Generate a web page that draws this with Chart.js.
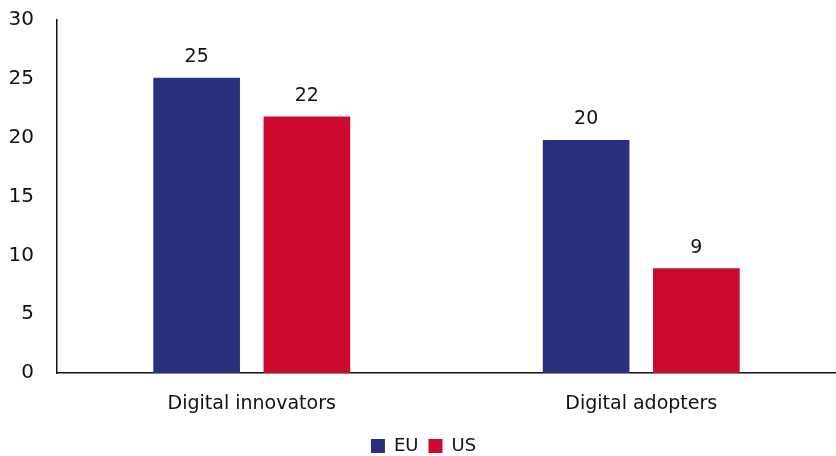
<!DOCTYPE html>
<html>
<head>
<meta charset="utf-8">
<script src="https://cdn.jsdelivr.net/npm/chart.js@4/dist/chart.umd.min.js"></script>
<style>
  html, body { margin: 0; padding: 0; background: #fff; }
  #wrap { width: 836px; height: 456px; }
</style>
</head>
<body>
<div id="wrap"><canvas id="chart"></canvas></div>
<script>
const categories = ['Digital innovators', 'Digital adopters'];
const EU = [25.1, 19.8];
const US = [21.8, 8.9];
const yTicks = [0, 5, 10, 15, 20, 25, 30];

const FONT = '"DejaVu Sans", sans-serif';

// draws the rounded value above each bar
const valueLabels = {
  id: 'valueLabels',
  afterDatasetsDraw(chart) {
    const ctx = chart.ctx;
    ctx.save();
    ctx.font = '19px ' + FONT;
    ctx.fillStyle = '#111';
    ctx.textAlign = 'center';
    ctx.textBaseline = 'bottom';
    chart.data.datasets.forEach((ds, i) => {
      chart.getDatasetMeta(i).data.forEach((bar, j) => {
        ctx.fillText(Math.round(ds.data[j]), bar.x, bar.y - 11);
      });
    });
    ctx.restore();
  }
};

new Chart(document.getElementById('chart'), {
  type: 'bar',
  data: {
    labels: categories,
    datasets: [
      { label: 'EU', data: EU, backgroundColor: '#28307f' },
      { label: 'US', data: US, backgroundColor: '#cc0a2f' },
    ],
  },
  options: {
    responsive: true,
    maintainAspectRatio: false,
    animation: false,
    layout: { padding: { top: 20, right: -11, left: 0, bottom: -9 } },
    datasets: { bar: { categoryPercentage: 0.566, barPercentage: 0.786 } },
    plugins: {
      legend: {
        position: 'bottom',
        labels: {
          boxWidth: 14, boxHeight: 14, padding: 10,
          color: '#111',
          font: { family: FONT, size: 18 },
        },
      },
      tooltip: { enabled: false },
    },
    scales: {
      x: {
        grid: { display: false, drawTicks: false },
        border: { color: '#111', width: 1.5 },
        ticks: { color: '#111', font: { family: FONT, size: 19 }, padding: 20 },
        afterFit: axis => { axis.height = 54; axis.paddingRight = -11; },
      },
      y: {
        min: 0, max: 30,
        afterBuildTicks: axis => { axis.ticks = yTicks.map(v => ({ value: v })); },
        grid: { display: false, drawTicks: false },
        border: { color: '#111', width: 1.5 },
        ticks: { color: '#111', font: { family: FONT, size: 20 }, padding: 23 },
        afterFit: axis => { axis.paddingTop = 0; axis.paddingRight = -11; axis.width = 57; },
      },
    },
  },
  plugins: [valueLabels],
});
</script>
</body>
</html>
